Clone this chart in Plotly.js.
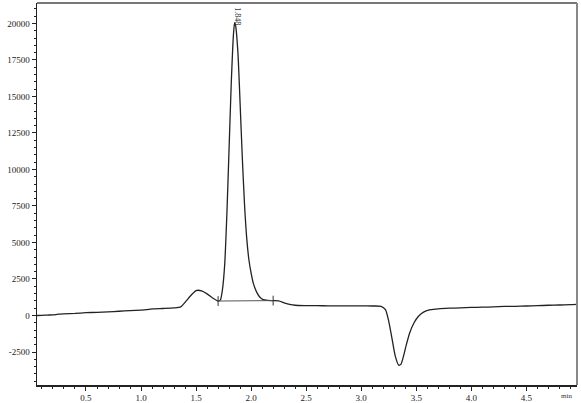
<!DOCTYPE html>
<html>
<head>
<meta charset="utf-8">
<script src="https://cdn.plot.ly/plotly-3.0.1.min.js"></script>
<style>html,body{margin:0;padding:0;background:#fff;}#chart{width:581px;height:403px;}</style>
</head>
<body>
<div id="chart"></div>
<script>
// Retention time (min) and detector signal
const timeMin = [0.055,0.10,0.15,0.20,0.25,0.30,0.40,0.50,0.60,0.70,0.80,0.90,1.00,1.05,1.10,1.20,1.30,1.36,1.40,1.45,1.50,1.52,1.55,1.60,1.65,1.70,1.72,1.74,1.76,1.78,1.80,1.82,1.84,1.85,1.86,1.88,1.90,1.92,1.94,1.96,1.98,2.00,2.02,2.05,2.08,2.11,2.15,2.20,2.25,2.30,2.35,2.40,2.50,2.60,2.70,2.80,2.90,3.00,3.10,3.18,3.22,3.25,3.28,3.31,3.34,3.36,3.38,3.41,3.44,3.48,3.52,3.57,3.63,3.70,3.80,3.90,4.00,4.10,4.20,4.30,4.40,4.50,4.60,4.70,4.80,4.90,4.955];
const signal = [0,10,30,40,90,110,140,190,220,250,290,330,370,400,450,480,520,590,900,1350,1700,1730,1680,1480,1200,990,1050,1800,3500,7000,11500,16000,19300,20050,19800,18000,14500,10800,7600,5300,3800,2900,2200,1600,1250,1080,1030,1020,1000,870,760,700,680,670,665,660,660,655,650,630,400,-400,-1600,-2800,-3400,-3350,-2900,-2000,-1200,-500,-50,250,400,460,500,520,550,570,590,620,630,650,670,700,720,740,760];
// Integration baseline and markers
const baseTime = [1.70, 2.20];
const baseSignal = [990, 1020];
const peakLabel = "1.848";
const peakTime = 1.848;
const yTickVals = [-2500,0,2500,5000,7500,10000,12500,15000,17500,20000];
const yTickText = ["-2500","0","2500","5000","7500","10000","12500","15000","17500","20000"];
const xTickVals = [0.5,1.0,1.5,2.0,2.5,3.0,3.5,4.0,4.5];
const xTickText = ["0.5","1.0","1.5","2.0","2.5","3.0","3.5","4.0","4.5"];

const data = [
  {x: timeMin, y: signal, type:'scatter', mode:'lines',
   line:{color:'#222', width:1.3, shape:'spline', smoothing:0.6}, hoverinfo:'skip'},
  {x: baseTime, y: baseSignal, type:'scatter', mode:'lines+markers',
   line:{color:'#555', width:1},
   marker:{symbol:'line-ns-open', size:7, color:'#333', line:{width:1, color:'#333'}}, hoverinfo:'skip'}
];

const font = {family:'"Liberation Serif", "Times New Roman", serif', size:9, color:'#222'};
const layout = {
  width:581, height:403,
  margin:{l:37, r:4, t:3, b:18},
  paper_bgcolor:'#fff', plot_bgcolor:'#fff',
  showlegend:false,
  font: font,
  xaxis:{range:[0.055,4.96], showgrid:false, zeroline:false,
    tickvals:xTickVals, ticktext:xTickText, ticks:'outside', ticklen:4, tickwidth:1, tickcolor:'#222',
    minor:{dtick:0.1, tick0:0, ticks:'outside', ticklen:2, tickcolor:'#222', showgrid:false},
    showline:true, linecolor:'#222', linewidth:1.5, tickfont:font},
  yaxis:{range:[-4760, 21400], showgrid:false, zeroline:false,
    tickvals:yTickVals, ticktext:yTickText, ticks:'outside', ticklen:4, tickwidth:1, tickcolor:'#222',
    minor:{dtick:500, tick0:0, ticks:'outside', ticklen:2, tickcolor:'#222', showgrid:false},
    showline:true, linecolor:'#222', linewidth:1.5, tickfont:font},
  shapes:[
    {type:'line', xref:'paper', yref:'paper', x0:0, x1:1, y0:1, y1:1, line:{color:'#777', width:2}},
    {type:'line', xref:'paper', yref:'paper', x0:1, x1:1, y0:0, y1:1, line:{color:'#888', width:2}}
  ],
  annotations:[
    {text:peakLabel, x:peakTime+0.02, xref:'x', y:0.995, yref:'paper', yanchor:'top', xanchor:'center',
     textangle:90, showarrow:false, font:{family:font.family, size:8, color:'#333'}},
    {text:'min', x:0.995, xref:'paper', xanchor:'right', y:-0.03, yref:'paper', yanchor:'middle',
     showarrow:false, font:{family:font.family, size:7, color:'#333'}}
  ]
};
Plotly.newPlot('chart', data, layout, {displayModeBar:false, staticPlot:true});
</script>
</body>
</html>
